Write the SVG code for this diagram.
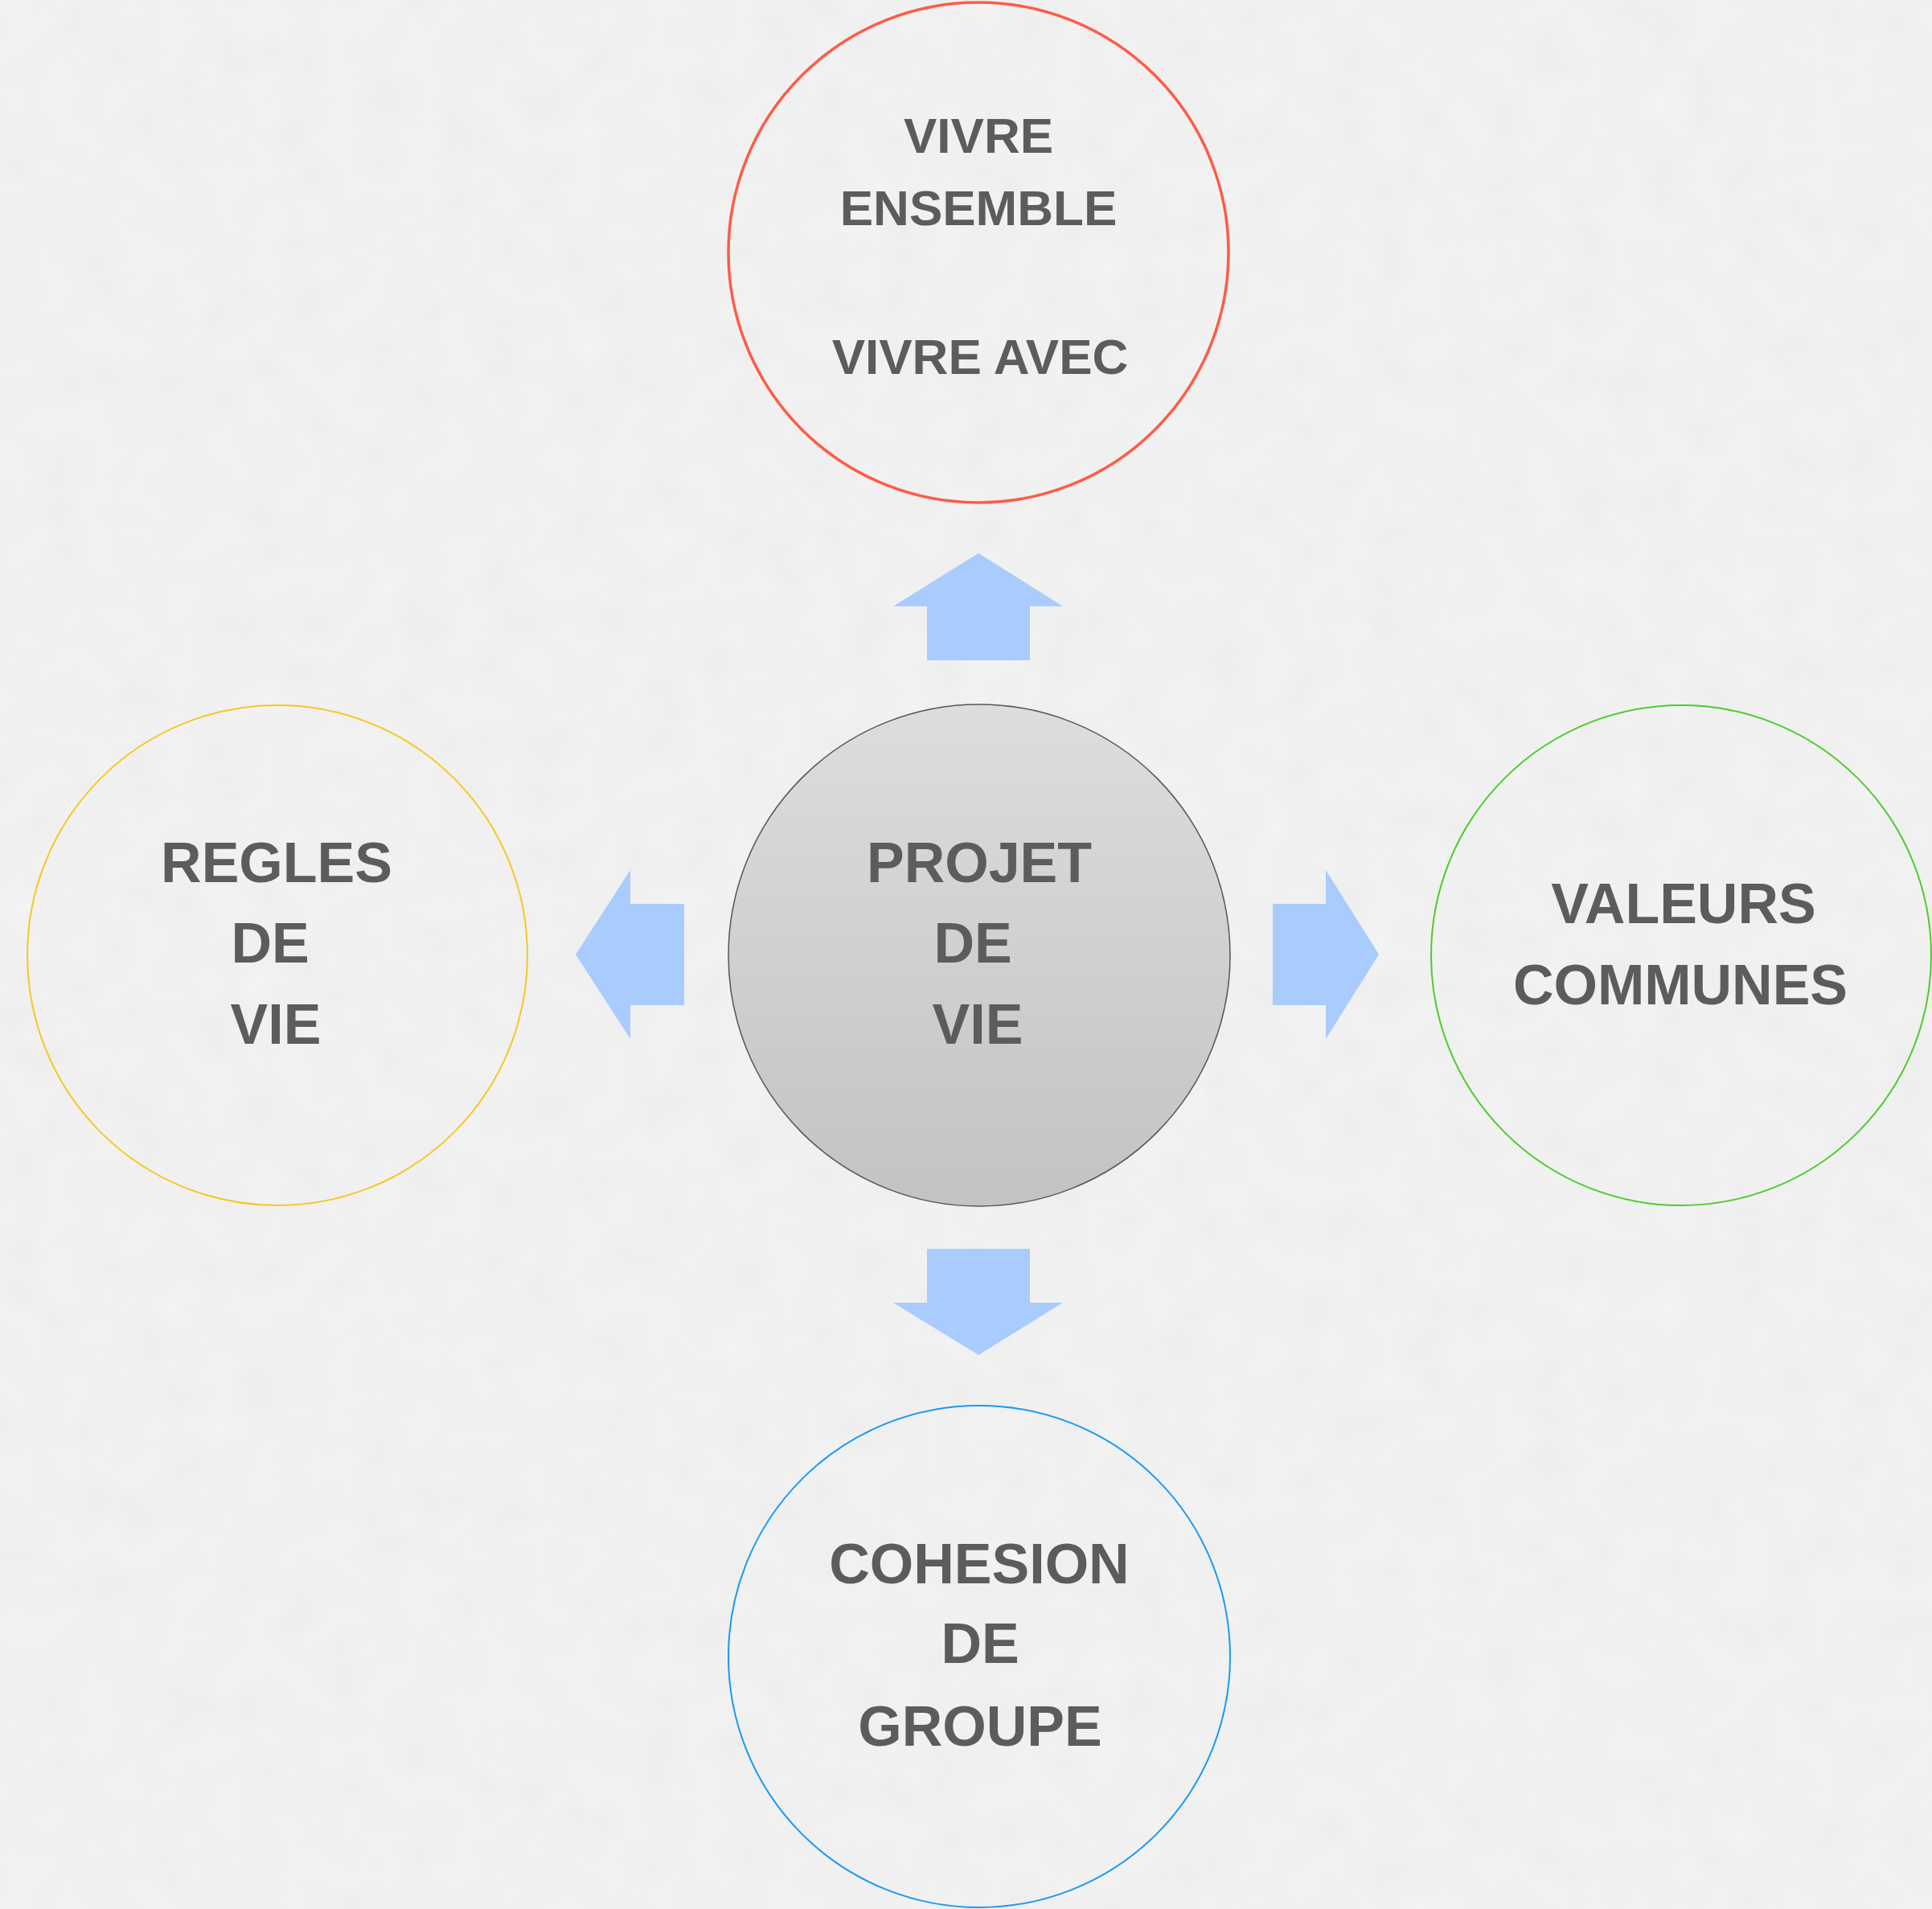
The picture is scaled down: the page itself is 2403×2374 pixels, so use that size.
<svg xmlns="http://www.w3.org/2000/svg" width="2403" height="2374" viewBox="0 0 2403 2374">
<style>
.t{font-family:"Liberation Sans",Arial,sans-serif;font-weight:bold;fill:#5c5c5c;text-anchor:middle}
.ring{fill:none}
.arrow{fill:#a9cbfd}
</style>
<defs>
<linearGradient id="g" x1="0" y1="0" x2="0" y2="1">
<stop offset="0" stop-color="#dddddd"/>
<stop offset="1" stop-color="#c3c3c3"/>
</linearGradient>
<filter id="tex" x="0" y="0" width="100%" height="100%">
<feTurbulence type="fractalNoise" baseFrequency="0.02" numOctaves="3" seed="4"/>
<feColorMatrix type="matrix" values="0 0 0 0 0  0 0 0 0 0  0 0 0 0 0  0 0 0 0.03 0"/>
</filter>
</defs>
<rect width="2403" height="2374" fill="#f4f4f4"/>
<rect width="2403" height="2374" filter="url(#tex)"/>
<g id="connectors">
<polygon class="arrow" points="1217,688 1322,754 1281,754 1281,821 1153,821 1153,754 1111,754"/>
<polygon class="arrow" points="1217,1685 1322,1620 1281,1620 1281,1553 1153,1553 1153,1620 1111,1620"/>
<polygon class="arrow" points="716,1187 784,1082 784,1124 851,1124 851,1250 784,1250 784,1292"/>
<polygon class="arrow" points="1715,1187 1649,1082 1649,1124 1583,1124 1583,1250 1649,1250 1649,1292"/>
</g>
<g id="vivre">
<circle class="ring" cx="1217" cy="314" r="311" stroke="#ff5b47" stroke-width="3.5"/>
<text class="t" font-size="62" x="1217" y="190">VIVRE</text>
<text class="t" font-size="62" x="1217" y="280">ENSEMBLE</text>
<text class="t" font-size="62" x="1219" y="465">VIVRE AVEC</text>
</g>
<g id="projet">
<circle cx="1218" cy="1188" r="312" fill="url(#g)" stroke="#555555" stroke-width="1.5"/>
<text class="t" font-size="70" x="1218" y="1097">PROJET</text>
<text class="t" font-size="70" x="1210" y="1197">DE</text>
<text class="t" font-size="70" x="1216" y="1298">VIE</text>
</g>
<g id="regles">
<circle class="ring" cx="345" cy="1188" r="311" stroke="#f5c823" stroke-width="2"/>
<text class="t" font-size="70" x="344" y="1097">REGLES</text>
<text class="t" font-size="70" x="336" y="1197">DE</text>
<text class="t" font-size="70" x="343" y="1298">VIE</text>
</g>
<g id="valeurs">
<circle class="ring" cx="2091" cy="1188" r="311" stroke="#4ccc2e" stroke-width="2"/>
<text class="t" font-size="70" x="2094" y="1148">VALEURS</text>
<text class="t" font-size="70" x="2090" y="1249">COMMUNES</text>
</g>
<g id="cohesion">
<circle class="ring" cx="1218" cy="2060" r="312" stroke="#1a9af2" stroke-width="2"/>
<text class="t" font-size="70" x="1218" y="1969">COHESION</text>
<text class="t" font-size="70" x="1219" y="2068">DE</text>
<text class="t" font-size="70" x="1219" y="2171">GROUPE</text>
</g>
</svg>
